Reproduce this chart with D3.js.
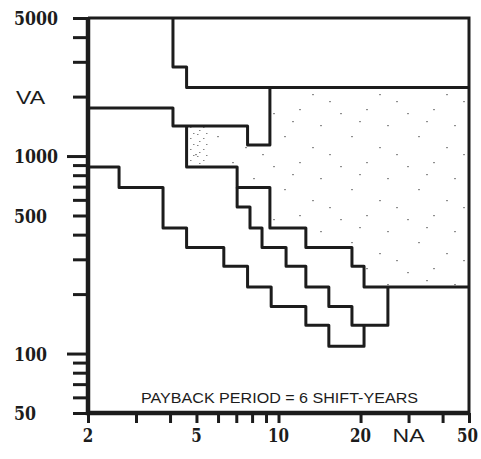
<!DOCTYPE html>
<html>
<head>
<meta charset="utf-8">
<script src="https://cdn.jsdelivr.net/npm/d3@7"></script>
<style>
  body { margin: 0; background: #fff; }
  svg { display: block; }
</style>
</head>
<body>
<div id="chart"></div>
<script>
var svgWidth = 481;
var svgHeight = 459;

// plot box in pixels
var plotLeft = 88, plotRight = 469, plotTop = 18, plotBottom = 413;

// axis ticks and labels
var xTicks = [2, 3, 4, 5, 6, 7, 8, 9, 10, 20, 30, 40, 50];
var xLabels = [[2, "2"], [5, "5"], [10, "10"], [20, "20"], [30, "NA"], [50, "50"]];
var yTicks = [50, 60, 70, 80, 90, 100, 200, 300, 400, 500, 600, 700, 800, 900, 1000, 2000, 3000, 4000, 5000];
var yLabels = [[5000, "5000"], [1000, "1000"], [500, "500"], [100, "100"], [50, "50"]];

// step boundaries (NA, VA)
var curveA = [[4.1, 5000], [4.1, 2825], [4.6, 2825], [4.6, 2223], [50, 2223]];
var curveB = [[2, 1751], [4.1, 1751], [4.1, 1419], [7.7, 1419], [7.7, 1137], [9.3, 1137], [9.3, 2223]];
var curveC = [[4.6, 1419], [4.6, 880], [7.05, 880], [7.05, 693], [9.3, 693], [9.3, 432], [12.6, 432],
              [12.6, 344], [18.6, 344], [18.6, 277], [20.6, 277], [20.6, 217], [50, 217]];
var curveD = [[7.05, 693], [7.05, 552], [7.86, 552], [7.86, 432], [8.7, 432], [8.7, 344], [10.66, 344],
              [10.66, 277], [12.6, 277], [12.6, 217], [15.3, 217], [15.3, 173], [18.6, 173], [18.6, 139],
              [25.2, 139], [25.2, 217]];
var curveE = [[2, 880], [2.6, 880], [2.6, 693], [3.77, 693], [3.77, 432], [4.6, 432], [4.6, 344], [6.3, 344],
              [6.3, 277], [7.7, 277], [7.7, 217], [9.4, 217], [9.4, 173], [12.6, 173], [12.6, 139], [15.3, 139],
              [15.3, 109], [20.6, 109], [20.6, 139]];

var ink = "#1c1c1c";

var svg = d3.select("#chart").append("svg").attr("width", svgWidth).attr("height", svgHeight);

var x = d3.scaleLog().domain([2, 50]).range([plotLeft, plotRight]);
var y = d3.scaleLog().domain([50, 5000]).range([plotBottom, plotTop]);

var line = d3.line().x(d => x(d[0])).y(d => y(d[1]));

// light stipple in the region between the second and third boundary
var defs = svg.append("defs");
var pat = defs.append("pattern").attr("id", "stip").attr("patternUnits", "userSpaceOnUse")
    .attr("width", 67).attr("height", 53);
[[5, 7], [31, 3], [52, 19], [16, 30], [44, 41], [61, 48], [24, 15]].forEach(function(p) {
    pat.append("rect").attr("x", p[0]).attr("y", p[1]).attr("width", 2).attr("height", 1.2).attr("fill", "#333");
});
var pat2 = defs.append("pattern").attr("id", "stip2").attr("patternUnits", "userSpaceOnUse")
    .attr("width", 13).attr("height", 11);
[[2, 2], [8, 6], [4, 9], [11, 1]].forEach(function(p) {
    pat2.append("rect").attr("x", p[0]).attr("y", p[1]).attr("width", 1.5).attr("height", 1).attr("fill", "#333");
});

var region = [[4.6, 1419]].concat(curveB.slice(3)).concat([[50, 2223], [50, 217]]).concat(curveC.slice().reverse());
svg.append("path").attr("d", line(region) + "Z").attr("fill", "url(#stip)").attr("opacity", 0.55);
svg.append("path").attr("d", line([[4.6, 1419], [5.6, 1419], [5.6, 880], [4.6, 880]]) + "Z")
    .attr("fill", "url(#stip2)").attr("opacity", 0.6);

// frame top and right
svg.append("path").attr("d", line([[2, 5000], [50, 5000], [50, 50]]))
    .attr("fill", "none").attr("stroke", ink).attr("stroke-width", 3);

// ticks
var yAxis = svg.append("g").attr("transform", `translate(${plotLeft},0)`)
    .call(d3.axisLeft(y).tickValues(yTicks).tickSize(15).tickFormat(""));
yAxis.select(".domain").remove();
yAxis.selectAll("line").attr("stroke", ink).attr("stroke-width", 3)
    .attr("x2", d => (d === 100 || d === 1000) ? -21 : -15);

var xAxis = svg.append("g").attr("transform", `translate(0,${plotBottom})`)
    .call(d3.axisBottom(x).tickValues(xTicks).tickSize(10).tickFormat(""));
xAxis.select(".domain").remove();
xAxis.selectAll("line").attr("stroke", ink).attr("stroke-width", 3);

// thick axis lines
svg.append("path").attr("d", line([[2, 5000], [2, 50], [50, 50]]))
    .attr("fill", "none").attr("stroke", ink).attr("stroke-width", 4.5);

// step curves
[curveA, curveB, curveC, curveD, curveE].forEach(function(c) {
    svg.append("path").attr("d", line(c)).attr("fill", "none")
        .attr("stroke", ink).attr("stroke-width", 3).attr("stroke-linejoin", "round");
});

// tick labels
svg.selectAll(".ylab").data(yLabels).enter().append("text")
    .attr("x", 14).attr("y", d => y(d[0]) + 7)
    .attr("font-family", "DejaVu Serif").attr("font-weight", "bold").attr("font-size", 18)
    .attr("textLength", d => d[1].length * 11).attr("lengthAdjust", "spacingAndGlyphs")
    .attr("fill", ink).text(d => d[1]);

svg.selectAll(".xlab").data(xLabels).enter().append("text")
    .attr("x", d => d[1] === "50" ? x(d[0]) - 1.5 : x(d[0])).attr("y", 442).attr("text-anchor", "middle")
    .attr("font-family", d => d[1] === "NA" ? "Liberation Sans" : "DejaVu Serif")
    .attr("font-weight", d => d[1] === "NA" ? "normal" : "bold")
    .attr("font-size", 18)
    .attr("textLength", d => d[1] === "NA" ? 32 : d[1].length * 10.5).attr("lengthAdjust", "spacingAndGlyphs")
    .attr("fill", ink).text(d => d[1]);

svg.append("text").attr("x", 16).attr("y", y(2000) + 7)
    .attr("font-family", "Liberation Sans").attr("font-size", 19)
    .attr("textLength", 29).attr("lengthAdjust", "spacingAndGlyphs")
    .attr("fill", ink).text("VA");

svg.append("text").attr("x", 141).attr("y", 403)
    .attr("font-family", "Liberation Sans").attr("font-size", 14)
    .attr("textLength", 277).attr("lengthAdjust", "spacingAndGlyphs")
    .attr("fill", ink).text("PAYBACK PERIOD = 6 SHIFT-YEARS");
</script>
</body>
</html>
